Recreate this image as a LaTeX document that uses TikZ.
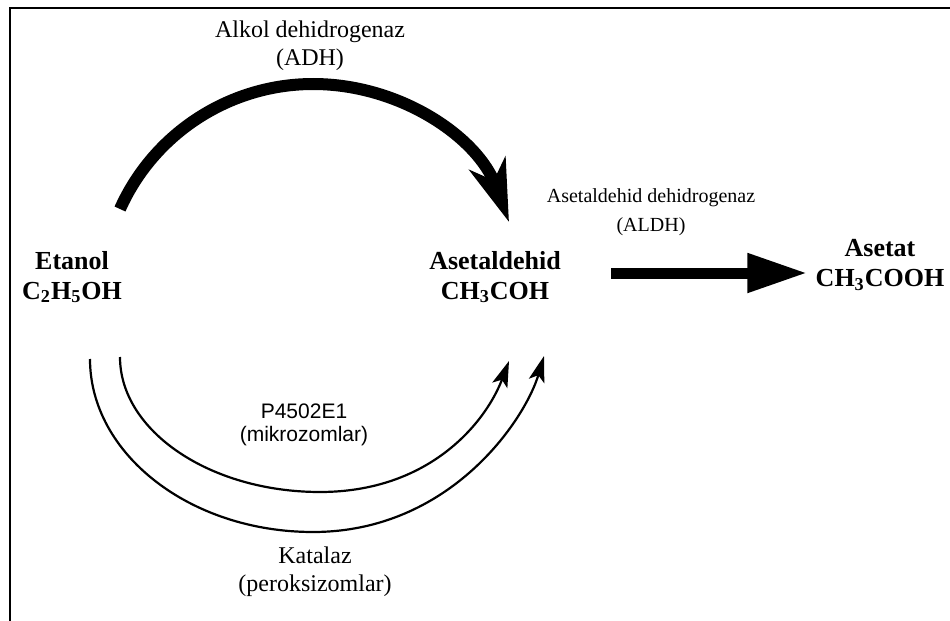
\documentclass[tikz,border=0pt]{standalone}
\usepackage{fontspec}
\setmainfont{Liberation Serif}
\newfontfamily\arialfont{Liberation Sans}
\usetikzlibrary{arrows.meta}

\tikzset{
  compound/.style={font=\fontsize{13}{15}\selectfont\bfseries, align=center, inner sep=0pt},
  enzyme/.style={font=\fontsize{12}{14}\selectfont, align=center, inner sep=0pt},
  enzymesf/.style={font=\arialfont\fontsize{10.5}{11.5}\selectfont, align=center, inner sep=0pt},
  thickarc/.style={line width=6pt, -{Stealth[length=31pt,width=19pt,inset=9pt]}},
  fatarrow/.style={line width=5.5pt, -{Triangle[length=30pt,width=18.5pt]}},
  thinarc/.style={line width=1.1pt, -{Stealth[length=13pt,width=8pt,inset=3pt]}},
}

\begin{document}
\begin{tikzpicture}[x=0.5pt,y=-0.5pt]
    \useasboundingbox (0,0) rectangle (950,621);
    \draw[line width=1pt] (950,8) -- (10,8) -- (10,621); % frame

    \node[compound] (etanol) at (72,277) {Etanol\\C\textsubscript{2}H\textsubscript{5}OH};
    \node[compound] (asetaldehid) at (495,277) {Asetaldehid\\CH\textsubscript{3}COH};
    \node[compound] (asetat) at (880,265) {Asetat\\CH\textsubscript{3}COOH};

    \node[enzyme] (adh) at (310,46) {Alkol dehidrogenaz\\(ADH)};
    \node[enzyme, font=\fontsize{10}{14.5}\selectfont] (aldh) at (651,212) {Asetaldehid dehidrogenaz\\(ALDH)};
    \node[enzymesf] (cyp) at (304,425) {P4502E1\\(mikrozomlar)};
    \node[enzyme] (katalaz) at (315,572) {Katalaz\\(peroksizomlar)};

    % ADH
    \coordinate (adhstart) at (120,209);
    \coordinate (adhtop) at (313,84);
    \coordinate (adhend) at (509,222);
    \draw[thickarc] (adhstart) .. controls (154,133) and (230,84) .. (adhtop)
        .. controls (401,84) and (478,138) .. (adhend);

    % ALDH
    \draw[fatarrow, shorten <=25pt, shorten >=4pt] ([yshift=2pt]asetaldehid.east) -- ([yshift=2pt]asetaldehid.east -| asetat.west);

    % P450 2E1 and katalaz
    \coordinate (cypstart) at (120,357);
    \coordinate (cypbottom) at (320,492);
    \coordinate (cypend) at (509,361);
    \draw[thinarc] (cypstart) .. controls (120,431) and (210,492) .. (cypbottom)
        .. controls (430,492) and (486,422) .. (cypend);
    \coordinate (katstart) at (90,359);
    \coordinate (katbottom) at (313,532);
    \coordinate (katend) at (544,356);
    \draw[thinarc] (katstart) .. controls (90,454) and (190,532) .. (katbottom)
        .. controls (450,532) and (525,420) .. (katend);
\end{tikzpicture}
\end{document}
